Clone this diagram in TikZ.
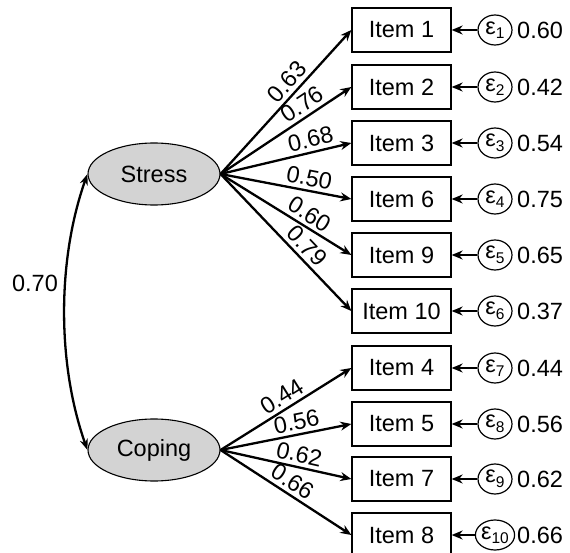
\documentclass[tikz,border=0pt]{standalone}
\usepackage{fontspec}
\setmainfont{Liberation Sans}
\usetikzlibrary{arrows.meta,shapes.geometric}
\definecolor{lgray}{RGB}{211,211,211}
\begin{document}
\begin{tikzpicture}[x=1pt,y=-1pt,
  font=\fontsize{23.5}{27}\selectfont,
  item/.style={draw, line width=1.3pt, minimum width=99pt, minimum height=44pt, inner sep=0pt},
  latent/.style={ellipse, draw, line width=1.1pt, fill=lgray, minimum width=132pt, minimum height=62pt, inner sep=0pt},
  err/.style={ellipse, draw, line width=1.2pt, minimum width=34pt, minimum height=30pt, inner sep=0pt},
  load/.style={line width=2.3pt, -{Stealth[length=11pt,width=9pt]}},
  corr/.style={line width=2.3pt, {Stealth[length=11pt,width=8pt]}-{Stealth[length=11pt,width=8pt]}},
  lbl/.style={sloped, above=2.5pt, inner sep=1pt},
  val/.style={anchor=west, inner sep=0pt}
]
\useasboundingbox (0,0) rectangle (570,553);

\node[latent] (stress) at (154,174) {Stress};
\node[latent] (coping) at (154,450) {Coping};

\newcommand{\eps}[1]{ε\raisebox{-4.5pt}{\fontsize{15.5}{15.5}\selectfont #1}}

\foreach \nm/\txt/\y/\e/\v in {i1/Item 1/30/1/0.60, i2/Item 2/87/2/0.42, i3/Item 3/143/3/0.54, i6/Item 6/199/4/0.75, i9/Item 9/255/5/0.65, i10/Item 10/311/6/0.37, i4/Item 4/368/7/0.44, i5/Item 5/424/8/0.56, i7/Item 7/479/9/0.62, i8/Item 8/535/10/0.66}{
  \node[item] (\nm) at (401.5,\y) {\txt};
  \node[err] (e\nm) at (495,\y) {\eps{\e}};
  \node[val] (v\nm) at (517,\y) {\v};
  \draw[load] (e\nm) -- (\nm);
}

\draw[load] (stress.east) -- node[lbl, pos=0.58] {0.63} (i1.west);
\draw[load] (stress.east) -- node[lbl, pos=0.68] {0.76} (i2.west);
\draw[load] (stress.east) -- node[lbl, pos=0.71] {0.68} (i3.west);
\draw[load] (stress.east) -- node[lbl, pos=0.66] {0.50} (i6.west);
\draw[load] (stress.east) -- node[lbl, pos=0.63] {0.60} (i9.west);
\draw[load] (stress.east) -- node[lbl, pos=0.59] {0.79} (i10.west);

\draw[load] (coping.east) -- node[lbl, pos=0.52] {0.44} (i4.west);
\draw[load] (coping.east) -- node[lbl, pos=0.60] {0.56} (i5.west);
\draw[load] (coping.east) -- node[lbl, pos=0.58] {0.62} (i7.west);
\draw[load] (coping.east) -- node[lbl, pos=0.50] {0.66} (i8.west);

\draw[corr] (coping.west) .. controls (57,364) and (57,260) .. (stress.west);
\node (r) at (35,283) {0.70};
\end{tikzpicture}
\end{document}
